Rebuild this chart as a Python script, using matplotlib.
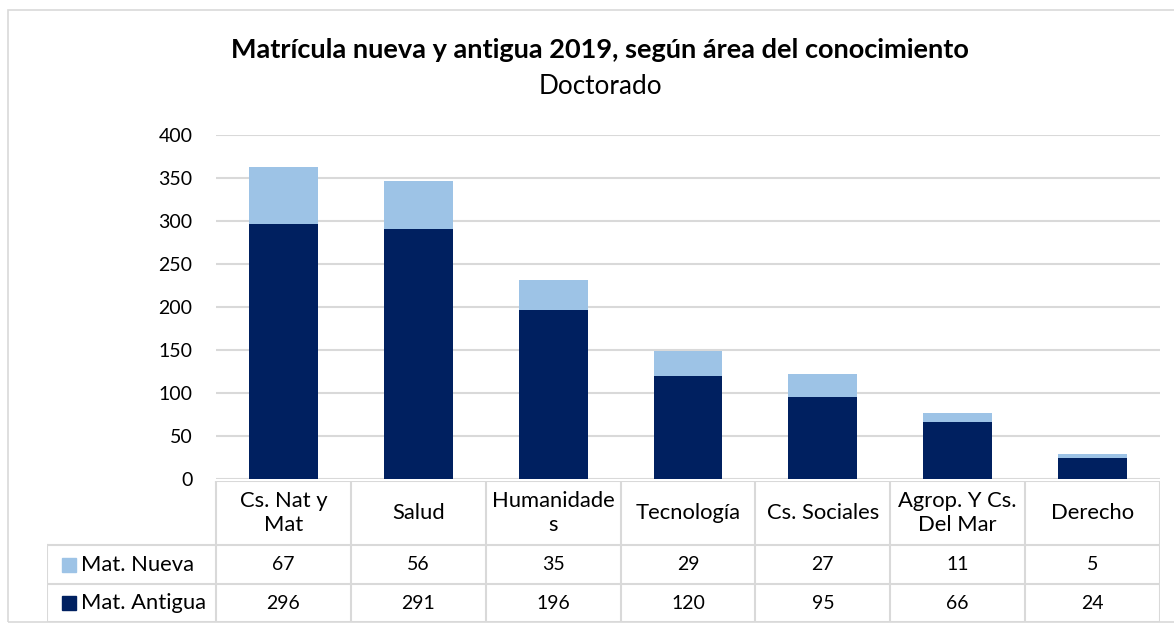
import matplotlib
matplotlib.use("Agg")
import matplotlib.pyplot as plt
from matplotlib.patches import Rectangle
from matplotlib.lines import Line2D

categories = ["Cs. Nat y\nMat", "Salud", "Humanidade\ns", "Tecnología",
              "Cs. Sociales", "Agrop. Y Cs.\nDel Mar", "Derecho"]
mat_nueva = [67, 56, 35, 29, 27, 11, 5]
mat_antigua = [296, 291, 196, 120, 95, 66, 24]
series_names = ["Mat. Nueva", "Mat. Antigua"]
yticks = [0, 50, 100, 150, 200, 250, 300, 350, 400]
title = "Matrícula nueva y antigua 2019, según área del conocimiento"
subtitle = "Doctorado"

C_NUEVA = "#9DC3E6"
C_ANTIGUA = "#002060"
GRID = "#D9D9D9"
FONT = ["Lato", "DejaVu Sans"]
plt.rcParams['font.family'] = FONT

W, H = 1174, 628
fig = plt.figure(figsize=(W / 100, H / 100), dpi=100)

def fx(px):
    return px / W

def fy(py):
    return 1 - py / H

# chart border
fig.add_artist(Rectangle((fx(8), fy(622)), fx(1180 - 8), fy(10) - fy(622),
                         transform=fig.transFigure, fill=False,
                         edgecolor="#D9D9D9", lw=1.2))

x_left, x_right = 216, 1160
y_top, y_zero = 135, 479
ax = fig.add_axes([fx(x_left), fy(y_zero), fx(x_right - x_left), fy(y_top) - fy(y_zero)])
n = len(categories)
xs = list(range(n))
ax.bar(xs, mat_antigua, width=0.51, color=C_ANTIGUA, zorder=3)
ax.bar(xs, mat_nueva, width=0.51, bottom=mat_antigua, color=C_NUEVA, zorder=3)
ax.set_xlim(-0.5, n - 0.5)
ax.set_ylim(0, 400)
ax.set_yticks(yticks)
ax.set_yticklabels([str(v) for v in yticks], fontsize=14)
ax.yaxis.grid(True, color=GRID, lw=1.5, zorder=0)
ax.set_xticks([])
for s in ax.spines.values():
    s.set_visible(False)
ax.tick_params(axis='y', length=0, pad=17)

# title
fig.text(fx(600), fy(50), title, ha="center", va="center",
         fontsize=19.5, fontweight="bold", color="#000000")
fig.text(fx(600), fy(87), subtitle, ha="center", va="center",
         fontsize=18.8, color="#000000")

# data table
tx0 = 47
ty0, ty1, ty2, ty3 = 481, 545, 584, 622
tax = fig.add_axes([fx(tx0), fy(ty3), fx(x_right - tx0), fy(ty0) - fy(ty3)])
tax.set_xlim(tx0, x_right)
tax.set_ylim(ty3, ty0)
tax.axis("off")
colw = (x_right - x_left) / n
lc = "#D9D9D9"
lw = 1.5
# horizontal lines
tax.add_line(Line2D([x_left, x_right], [ty0, ty0], color=lc, lw=lw))
for yy in (ty1, ty2, ty3):
    tax.add_line(Line2D([tx0, x_right], [yy, yy], color=lc, lw=lw))
# vertical lines
tax.add_line(Line2D([tx0, tx0], [ty1, ty3], color=lc, lw=lw))
for i in range(n + 1):
    xx = x_left + i * colw
    tax.add_line(Line2D([xx, xx], [ty0, ty3], color=lc, lw=lw))

for i, cat in enumerate(categories):
    cx = x_left + (i + 0.5) * colw
    tax.text(cx, (ty0 + ty1) / 2, cat, ha="center", va="center", fontsize=15.8,
             linespacing=1.25)
    tax.text(cx, (ty1 + ty2) / 2, str(mat_nueva[i]), ha="center", va="center", fontsize=14)
    tax.text(cx, (ty2 + ty3) / 2, str(mat_antigua[i]), ha="center", va="center", fontsize=14)

for name, col, (ya, yb) in zip(series_names, [C_NUEVA, C_ANTIGUA],
                               [(ty1, ty2), (ty2, ty3)]):
    ym = (ya + yb) / 2
    tax.add_patch(Rectangle((62, ym - 7), 14, 14, color=col))
    tax.text(81, ym, name, ha="left", va="center", fontsize=15.8)

fig.savefig("out.png", dpi=100)
